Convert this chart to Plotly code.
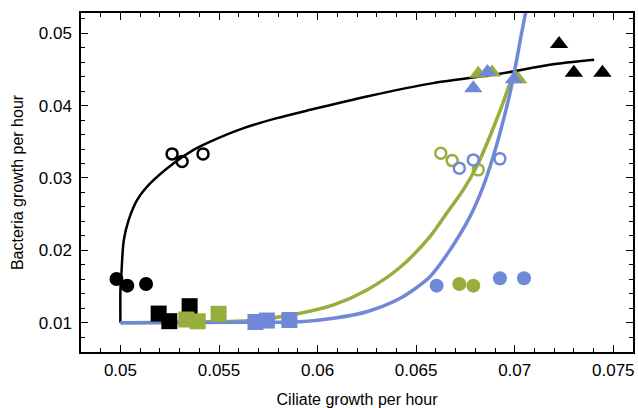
import plotly.graph_objects as go

BLACK = "#000000"
GREEN = "#97ad3c"
BLUE = "#7088d8"

# Fitted curves
black_curve_x = [0.05, 0.05, 0.05005, 0.05017, 0.05042, 0.05085, 0.05152, 0.0527, 0.05371, 0.05456,
                 0.05625, 0.05794, 0.05963, 0.0625, 0.06587, 0.06925, 0.07178, 0.07403]
black_curve_y = [0.01, 0.0145, 0.0168, 0.0214, 0.0242, 0.02697, 0.02928, 0.03205, 0.03389, 0.03503,
                 0.03689, 0.03827, 0.03942, 0.04126, 0.04311, 0.0444, 0.04564, 0.04633]

green_curve_x = [0.05, 0.05405, 0.05659, 0.05912, 0.06081, 0.0625, 0.06419, 0.0657, 0.06655,
                 0.06739, 0.06807, 0.06874, 0.06934, 0.06984, 0.07013]
green_curve_y = [0.01, 0.0101, 0.0103, 0.0113, 0.01245, 0.01452, 0.01766, 0.0219, 0.02513,
                 0.02835, 0.03158, 0.03573, 0.03988, 0.04357, 0.04472]

blue_curve_x = [0.05, 0.05659, 0.05912, 0.06081, 0.0625, 0.06419, 0.0657, 0.06672, 0.06773,
                0.0684, 0.06891, 0.06934, 0.06976, 0.0701, 0.07035, 0.07055, 0.0707]
blue_curve_y = [0.01, 0.01005, 0.01014, 0.01061, 0.01152, 0.01337, 0.01636, 0.02006, 0.02466,
                0.02881, 0.03296, 0.03711, 0.04173, 0.04633, 0.05003, 0.05279, 0.0550]

# Data points
black_sq_x = [0.05194, 0.05248, 0.05351]
black_sq_y = [0.01126, 0.01021, 0.01228]
green_sq_x = [0.05334, 0.05392, 0.05498]
green_sq_y = [0.01044, 0.01019, 0.01123]
blue_sq_x = [0.05685, 0.05743, 0.05857]
blue_sq_y = [0.0101, 0.0103, 0.01037]

black_dot_x = [0.0498, 0.05035, 0.0513]
black_dot_y = [0.01604, 0.01512, 0.01535]
green_dot_x = [0.06719, 0.0679]
green_dot_y = [0.01535, 0.01512]
blue_dot_x = [0.06604, 0.06925, 0.07047]
blue_dot_y = [0.01512, 0.01614, 0.01614]

black_open_x = [0.05262, 0.05313, 0.05419]
black_open_y = [0.03333, 0.03227, 0.03333]
green_open_x = [0.06625, 0.06683, 0.06815]
green_open_y = [0.03343, 0.0324, 0.03112]
blue_open_x = [0.06719, 0.0679, 0.06925]
blue_open_y = [0.03136, 0.0325, 0.03264]

black_tri_x = [0.07225, 0.0730, 0.07445]
black_tri_y = [0.0485, 0.04454, 0.04454]
green_tri_x = [0.06815, 0.06885, 0.07018]
green_tri_y = [0.0444, 0.04458, 0.04364]
blue_tri_x = [0.0679, 0.06862, 0.06996]
blue_tri_y = [0.0424, 0.04465, 0.04364]

x_tickvals = [0.05, 0.055, 0.06, 0.065, 0.07, 0.075]
x_ticktext = ["0.05", "0.055", "0.06", "0.065", "0.07", "0.075"]
y_tickvals = [0.01, 0.02, 0.03, 0.04, 0.05]
y_ticktext = ["0.01", "0.02", "0.03", "0.04", "0.05"]

FONT = "Liberation Sans, Arial, sans-serif"

fig = go.Figure()

# curves
fig.add_trace(go.Scatter(x=black_curve_x, y=black_curve_y, mode="lines",
                         line=dict(color=BLACK, width=2.5, shape="spline", smoothing=0.8)))
fig.add_trace(go.Scatter(x=green_curve_x, y=green_curve_y, mode="lines",
                         line=dict(color=GREEN, width=3.5, shape="spline", smoothing=0.8)))
fig.add_trace(go.Scatter(x=blue_curve_x, y=blue_curve_y, mode="lines",
                         line=dict(color=BLUE, width=3.5, shape="spline", smoothing=0.8)))

def pts(x, y, color, symbol, size, open_=False):
    if open_:
        m = dict(color=color, size=size, symbol=symbol, line=dict(color=color, width=2.5))
    else:
        m = dict(color=color, size=size, symbol=symbol, line=dict(width=0))
    fig.add_trace(go.Scatter(x=x, y=y, mode="markers", marker=m, cliponaxis=False))

for c, sx, sy in [(BLACK, black_sq_x, black_sq_y), (GREEN, green_sq_x, green_sq_y), (BLUE, blue_sq_x, blue_sq_y)]:
    pts(sx, sy, c, "square", 16)
for c, sx, sy in [(BLACK, black_dot_x, black_dot_y), (GREEN, green_dot_x, green_dot_y), (BLUE, blue_dot_x, blue_dot_y)]:
    pts(sx, sy, c, "circle", 14)
for c, sx, sy in [(BLACK, black_open_x, black_open_y), (GREEN, green_open_x, green_open_y), (BLUE, blue_open_x, blue_open_y)]:
    pts(sx, sy, c, "circle-open", 11, open_=True)
for c, sx, sy in [(BLACK, black_tri_x, black_tri_y), (GREEN, green_tri_x, green_tri_y), (BLUE, blue_tri_x, blue_tri_y)]:
    pts(sx, sy, c, "triangle-up", 16)

axis_common = dict(showline=True, linecolor="black", linewidth=1.5, mirror="ticks",
                   ticks="inside", ticklen=7, tickwidth=1.3, tickcolor="black",
                   showgrid=False, zeroline=False, automargin=False,
                   tickfont=dict(family=FONT, size=17, color="black"),
                   title_font=dict(family=FONT, size=16, color="black"))

fig.update_xaxes(range=[0.048, 0.076], tickvals=x_tickvals, ticktext=x_ticktext,
                 minor=dict(dtick=0.001, ticks="inside", ticklen=4, tickwidth=1.2, tickcolor="black"),
                 title_text="Ciliate growth per hour", title_standoff=19, ticklabelstandoff=2,
                 **axis_common)
fig.update_yaxes(range=[0.00595, 0.0528], tickvals=y_tickvals, ticktext=y_ticktext,
                 minor=dict(dtick=0.002, tick0=0.0, ticks="inside", ticklen=4, tickwidth=1.2, tickcolor="black"),
                 title_text="Bacteria growth per hour", title_standoff=11, ticklabelstandoff=4,
                 **axis_common)

fig.update_layout(width=638, height=408, margin=dict(l=81, r=5, t=13, b=56),
                  plot_bgcolor="white", paper_bgcolor="white", showlegend=False)

fig.write_html("out.html")
